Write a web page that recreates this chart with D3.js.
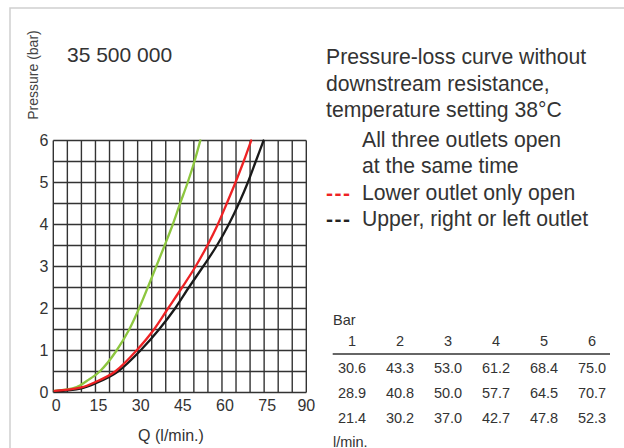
<!DOCTYPE html>
<html>
<head>
<meta charset="utf-8">
<script src="https://cdn.jsdelivr.net/npm/d3@7"></script>
<style>
  html, body { margin: 0; padding: 0; background: #fff; }
  svg { display: block; }
  text { font-family: "Liberation Sans", Arial, sans-serif; fill: #333; }
</style>
</head>
<body>
<svg id="chart" width="624" height="448"></svg>
<script>
// ---- data ----
const title = "35 500 000";
const xTicks = [0, 15, 30, 45, 60, 75, 90];
const yTicks = [0, 1, 2, 3, 4, 5, 6];

// curves: [Q (l/min), pressure (bar)]
const greenCurve = [[0.5,0.04],[8.3,0.13],[12,0.28],[16.5,0.5],[22.5,1],[27,1.5],[30.5,2],[33.6,2.5],[36.6,3],[39.6,3.5],[42.5,4],[45.1,4.5],[47.8,5],[50.2,5.5],[52.3,6]];
const blackCurve = [[0.5,0.03],[10,0.1],[15,0.22],[23,0.5],[31,1],[37.6,1.5],[43.3,2],[48.2,2.5],[53.3,3],[58.2,3.5],[62.4,4],[66,4.5],[69.2,5],[72,5.5],[74.8,6]];
const redCurve   = [[0.5,0.04],[10,0.12],[15,0.25],[22,0.5],[29.6,1],[35.8,1.5],[40.8,2],[45.8,2.5],[50.6,3],[54.8,3.5],[58.5,4],[61.7,4.5],[64.8,5],[67.7,5.5],[70.4,6]];

const legendTitle = ["Pressure-loss curve without", "downstream resistance,", "temperature setting 38°C"];
const legendItems = [
  { marker: "", color: "#8dc63f", lines: ["All three outlets open", "at the same time"] },
  { marker: "---", color: "#ee2224", lines: ["Lower outlet only open"] },
  { marker: "---", color: "#222", lines: ["Upper, right or left outlet"] }
];

const tableHeader = [1, 2, 3, 4, 5, 6];
const tableRow1 = ["30.6", "43.3", "53.0", "61.2", "68.4", "75.0"];
const tableRow2 = ["28.9", "40.8", "50.0", "57.7", "64.5", "70.7"];
const tableRow3 = ["21.4", "30.2", "37.0", "42.7", "47.8", "52.3"];
const tableRows = [tableRow1, tableRow2, tableRow3];

// ---- drawing ----
const svg = d3.select("#chart");

// frame
svg.append("path")
  .attr("d", "M10,448 L10,8 L624,8")
  .attr("fill", "none").attr("stroke", "#cfcfcf").attr("stroke-width", 1.5);

const x = d3.scaleLinear().domain([0, 90]).range([53.3, 306.3]);
const y = d3.scaleLinear().domain([0, 6]).range([392.5, 140.5]);

// grid
const grid = svg.append("g").attr("stroke", "#333").attr("stroke-width", 1.4);
grid.selectAll("line.v").data(d3.range(0, 91, 5)).join("line")
  .attr("x1", d => x(d)).attr("x2", d => x(d))
  .attr("y1", y(0)).attr("y2", y(6));
grid.selectAll("line.h").data(d3.range(0, 6.01, 0.5)).join("line")
  .attr("x1", x(0)).attr("x2", x(90))
  .attr("y1", d => y(d)).attr("y2", d => y(d));

// tick labels
svg.append("g").selectAll("text").data(xTicks).join("text")
  .attr("x", d => x(d) + (d === 90 ? 0 : 3))
  .attr("y", 411)
  .attr("text-anchor", "middle")
  .style("font-size", "16px")
  .text(d => d);
svg.append("g").selectAll("text").data(yTicks).join("text")
  .attr("x", 44)
  .attr("y", d => y(d) + 5.6)
  .attr("text-anchor", "middle")
  .style("font-size", "16px")
  .text(d => d);

// axis titles
svg.append("text")
  .attr("transform", "translate(38,75) rotate(-90)")
  .attr("text-anchor", "middle")
  .style("font-size", "14px").style("fill", "#444")
  .text("Pressure (bar)");
svg.append("text")
  .attr("x", 171).attr("y", 441)
  .attr("text-anchor", "middle")
  .style("font-size", "16px")
  .text("Q (l/min.)");

svg.append("text")
  .attr("x", 67).attr("y", 62.3)
  .style("font-size", "21px")
  .text(title);

// curves
const line = d3.line().x(d => x(d[0])).y(d => y(d[1])).curve(d3.curveMonotoneX);
[[greenCurve, "#8dc63f"], [blackCurve, "#1a1a1a"], [redCurve, "#ee2224"]].forEach(([data, color]) => {
  svg.append("path").datum(data)
    .attr("d", line)
    .attr("fill", "none")
    .attr("stroke", color)
    .attr("stroke-width", 2.3)
    .attr("stroke-linecap", "round");
});

// legend
const lg = svg.append("g");
legendTitle.forEach((t, i) => {
  lg.append("text").attr("x", 326).attr("y", 64.3 + i * 26.5)
    .style("font-size", "21.2px").text(t);
});
const legendBaselines = [[147.3, 173.3], [200], [225.8]];
legendItems.forEach((item, i) => {
  if (item.marker) {
    lg.append("text").attr("x", 326).attr("y", legendBaselines[i][0])
      .style("font-size", "21px").style("fill", item.color)
      .style("letter-spacing", "1.5px").style("font-weight", "bold")
      .text(item.marker);
  }
  item.lines.forEach((t, j) => {
    lg.append("text").attr("x", 362).attr("y", legendBaselines[i][j])
      .style("font-size", "21.2px").text(t);
  });
});

// table
const colX = d3.scalePoint().domain(tableHeader).range([352, 592]);
const tg = svg.append("g").style("font-size", "14.5px");
tg.append("text").attr("x", 333).attr("y", 325).text("Bar");
tg.selectAll("text.h").data(tableHeader).join("text").attr("class", "h")
  .attr("x", d => colX(d)).attr("y", 345.7)
  .attr("text-anchor", "middle").text(d => d);
tg.append("line")
  .attr("x1", 332.7).attr("x2", 610).attr("y1", 354).attr("y2", 354)
  .attr("stroke", "#333").attr("stroke-width", 1.5);
tableRows.forEach((row, r) => {
  tg.selectAll("text.r" + r).data(row).join("text").attr("class", "r" + r)
    .attr("x", (d, i) => colX(tableHeader[i])).attr("y", 373.3 + r * 24.7)
    .attr("text-anchor", "middle").text(d => d);
});
tg.append("text").attr("x", 333).attr("y", 446.5).text("l/min.");
</script>
</body>
</html>
